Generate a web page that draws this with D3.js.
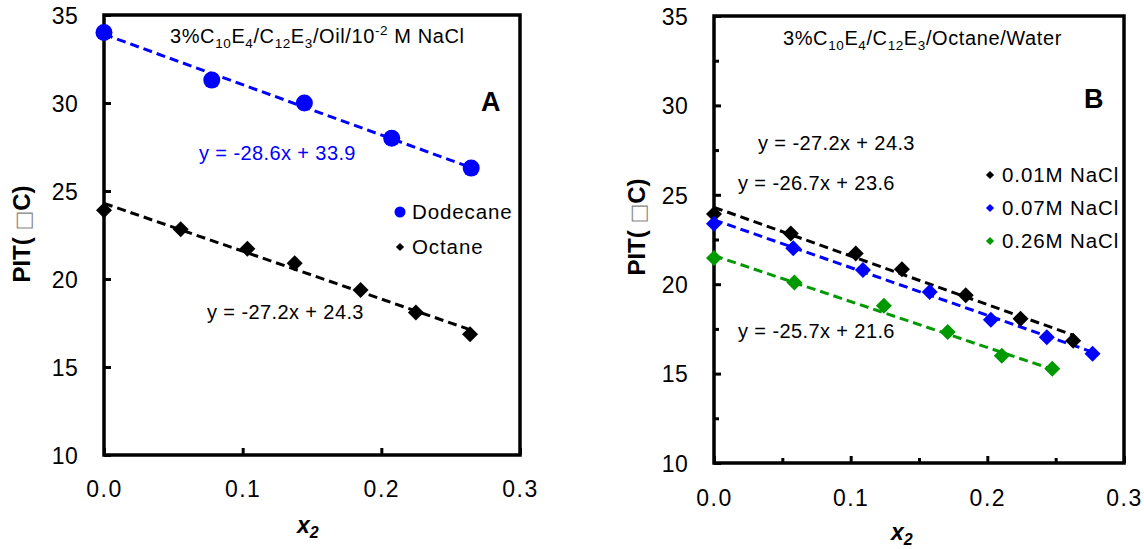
<!DOCTYPE html>
<html>
<head>
<meta charset="utf-8">
<script src="https://cdn.jsdelivr.net/npm/d3@7"></script>
<style>
  body { margin: 0; background: #fff; }
  svg { display: block; }
  text { font-family: "Liberation Sans", Arial, sans-serif; }
</style>
</head>
<body>
<svg id="chart" width="1144" height="549"></svg>
<script>
// ---- data ----
// panel A : 10^-2 M NaCl, two oils
const xDodecane = [0, 0.0777, 0.1445, 0.2075, 0.2648];
const pitDodecane = [34.0, 31.3, 30.0, 28.0, 26.3];
const xOctane = [0, 0.0553, 0.1034, 0.1375, 0.185, 0.2249, 0.264];
const pitOctane = [23.9, 22.82, 21.72, 20.89, 19.38, 18.09, 16.86];

// panel B : octane / water at three salinities
const x001 = [0, 0.0562, 0.1037, 0.1375, 0.1842, 0.2243, 0.2628];
const pit001 = [23.93, 22.83, 21.72, 20.84, 19.38, 18.07, 16.84];
const x007 = [0, 0.058, 0.109, 0.1578, 0.2026, 0.2435, 0.277];
const pit007 = [23.38, 22.01, 20.8, 19.57, 18.01, 17.03, 16.11];
const x026 = [0, 0.0588, 0.1243, 0.171, 0.2106, 0.2475];
const pit026 = [21.46, 20.1, 18.79, 17.32, 16.0, 15.27];

// linear fits printed on the chart: [slope, intercept]
const fitDodecane = [-28.6, 33.9];
const fitOctane = [-27.2, 24.3];
const fit001 = [-27.2, 24.3];
const fit007 = [-26.7, 23.6];
const fit026 = [-25.7, 21.6];

const xTicks = [0, 0.1, 0.2, 0.3];
const yTicks = [10, 15, 20, 25, 30, 35];
const xMinor = [0.05, 0.15, 0.25];
const yMinor = [12.5, 17.5, 22.5, 27.5, 32.5];

const svg = d3.select("#chart");
const fmt = d3.format(".1f");

function eqText(f) {
  return `y = ${f[0]}x + ${f[1]}`;
}

function drawPanel(p) {
  const x = d3.scaleLinear().domain([0, 0.3]).range([p.left, p.right]);
  const y = d3.scaleLinear().domain([10, 35]).range([p.bottom, p.top]);
  const g = svg.append("g");

  // minor ticks (panel B only)
  if (p.minor) {
    g.append("g").attr("transform", `translate(0,${p.bottom})`)
      .call(d3.axisBottom(x).tickValues(xMinor).tickSizeInner(-5).tickSizeOuter(0).tickFormat(""))
      .call(a => a.select(".domain").remove())
      .selectAll("line").attr("stroke-width", 3);
    g.append("g").attr("transform", `translate(${p.left},0)`)
      .call(d3.axisLeft(y).tickValues(yMinor).tickSizeInner(-5).tickSizeOuter(0).tickFormat(""))
      .call(a => a.select(".domain").remove())
      .selectAll("line").attr("stroke-width", 3);
  }

  const ax = g.append("g").attr("transform", `translate(0,${p.bottom})`)
    .call(d3.axisBottom(x).tickValues(xTicks).tickSizeInner(-7).tickSizeOuter(0).tickPadding(p.xPad).tickFormat(fmt));
  const ay = g.append("g").attr("transform", `translate(${p.left},0)`)
    .call(d3.axisLeft(y).tickValues(yTicks).tickSizeInner(-7).tickSizeOuter(0).tickPadding(26));
  [ax, ay].forEach(a => {
    a.select(".domain").remove();
    a.selectAll("line").attr("stroke-width", 3);
    a.selectAll("text").attr("font-size", 23)
      .attr("font-family", "Liberation Sans, Arial, sans-serif").attr("fill", "#000");
  });
  ax.selectAll("text").attr("letter-spacing", 1.5);
  ay.selectAll("text").attr("letter-spacing", 0.3).attr("dy", "0.36em");

  // frame
  g.append("rect")
    .attr("x", p.left).attr("y", p.top)
    .attr("width", p.right - p.left).attr("height", p.bottom - p.top)
    .attr("fill", "none").attr("stroke", "#000").attr("stroke-width", 3.5);

  // trend lines
  p.series.forEach(s => {
    const x1 = d3.max(s.xs);
    g.append("line")
      .attr("x1", x(0)).attr("y1", y(s.fit[1]))
      .attr("x2", x(x1)).attr("y2", y(s.fit[0] * x1 + s.fit[1]))
      .attr("stroke", s.color).attr("stroke-width", 3)
      .attr("stroke-dasharray", "9,5");
  });

  // markers
  p.series.forEach(s => {
    const pts = s.xs.map((v, i) => [v, s.ys[i]]);
    if (s.shape === "circle") {
      g.selectAll(null).data(pts).enter().append("circle")
        .attr("cx", d => x(d[0])).attr("cy", d => y(d[1]))
        .attr("r", 8.5).attr("fill", s.color);
    } else {
      g.selectAll(null).data(pts).enter().append("path")
        .attr("d", d3.symbol(d3.symbolSquare, 128)())
        .attr("transform", d => `translate(${x(d[0])},${y(d[1])}) rotate(45)`)
        .attr("fill", s.color);
    }
  });

  // equations
  p.series.forEach(s => {
    g.append("text").attr("x", s.eqPos[0]).attr("y", s.eqPos[1])
      .attr("font-size", 20).attr("letter-spacing", 0.4)
      .attr("fill", s.eqColor).text(eqText(s.fit));
  });

  // legend
  p.series.forEach((s, i) => {
    const ly = p.legend[1] + i * p.legendStep;
    if (s.shape === "circle") {
      g.append("circle").attr("cx", p.legend[0]).attr("cy", ly).attr("r", 5.5).attr("fill", s.color);
    } else {
      g.append("path").attr("d", d3.symbol(d3.symbolSquare, 34)())
        .attr("transform", `translate(${p.legend[0]},${ly}) rotate(45)`).attr("fill", s.color);
    }
    g.append("text").attr("x", p.legend[0] + 12).attr("y", ly + 7)
      .attr("font-size", 20.5).attr("letter-spacing", 0.9).text(s.name);
  });

  // panel letter
  g.append("text").attr("x", p.letterPos[0]).attr("y", p.letterPos[1])
    .attr("font-size", 27).attr("font-weight", "bold").text(p.letter);

  // title with subscripts
  const t = g.append("text").attr("x", p.titlePos[0]).attr("y", p.titlePos[1])
    .attr("font-size", 20).attr("letter-spacing", 0.6);
  p.title.forEach(part => {
    const sp = t.append("tspan").text(part[0]);
    if (part[1] === "sub") sp.attr("font-size", 13.5).attr("dy", 5);
    if (part[1] === "sup") sp.attr("font-size", 13.5).attr("dy", -8);
    if (part[1] === "back") sp.attr("dy", -5);
    if (part[1] === "down") sp.attr("dy", 8);
  });

  // axis titles
  const yt = g.append("text")
    .attr("transform", `translate(${p.yTitle[0]},${p.yTitle[1]}) rotate(-90)`)
    .attr("text-anchor", "middle").attr("font-size", 24).attr("font-weight", "bold");
  yt.append("tspan").text("PIT( ");
  yt.append("tspan").attr("font-weight", "normal").attr("fill", "#888").attr("font-size", 21)
    .attr("font-family", "DejaVu Sans").text("\u25A1");
  yt.append("tspan").text("C)");

  const xt = g.append("text").attr("x", p.xTitle[0]).attr("y", p.xTitle[1])
    .attr("font-size", 23).attr("font-weight", "bold").attr("font-style", "italic");
  xt.append("tspan").text("x");
  xt.append("tspan").attr("font-size", 16).attr("dy", 5).text("2");
}

drawPanel({
  left: 104, right: 520, top: 15, bottom: 455, xPad: 26, minor: false,
  letter: "A", letterPos: [481, 111],
  titlePos: [170, 43],
  title: [["3%C"], ["10", "sub"], ["E", "back"], ["4", "sub"], ["/C", "back"], ["12", "sub"],
          ["E", "back"], ["3", "sub"], ["/Oil/10", "back"], ["-2", "sup"], [" M NaCl", "down"]],
  yTitle: [30, 234], xTitle: [297, 533],
  legend: [400, 212], legendStep: 35,
  series: [
    { name: "Dodecane", xs: xDodecane, ys: pitDodecane, color: "#0000ff", shape: "circle",
      fit: fitDodecane, eqPos: [199, 160], eqColor: "#0000ff" },
    { name: "Octane", xs: xOctane, ys: pitOctane, color: "#000", shape: "diamond",
      fit: fitOctane, eqPos: [207, 319], eqColor: "#000" }
  ]
});

drawPanel({
  left: 714, right: 1124, top: 16, bottom: 463, xPad: 27, minor: true,
  letter: "B", letterPos: [1084, 108],
  titlePos: [783, 45],
  title: [["3%C"], ["10", "sub"], ["E", "back"], ["4", "sub"], ["/C", "back"], ["12", "sub"],
          ["E", "back"], ["3", "sub"], ["/Octane/Water", "back"]],
  yTitle: [645, 227], xTitle: [891, 540],
  legend: [990, 175], legendStep: 33,
  series: [
    { name: "0.01M NaCl", xs: x001, ys: pit001, color: "#000", shape: "diamond",
      fit: fit001, eqPos: [758, 150], eqColor: "#000" },
    { name: "0.07M NaCl", xs: x007, ys: pit007, color: "#0000ff", shape: "diamond",
      fit: fit007, eqPos: [738, 190], eqColor: "#000" },
    { name: "0.26M NaCl", xs: x026, ys: pit026, color: "#009900", shape: "diamond",
      fit: fit026, eqPos: [738, 338], eqColor: "#000" }
  ]
});
</script>
</body>
</html>
